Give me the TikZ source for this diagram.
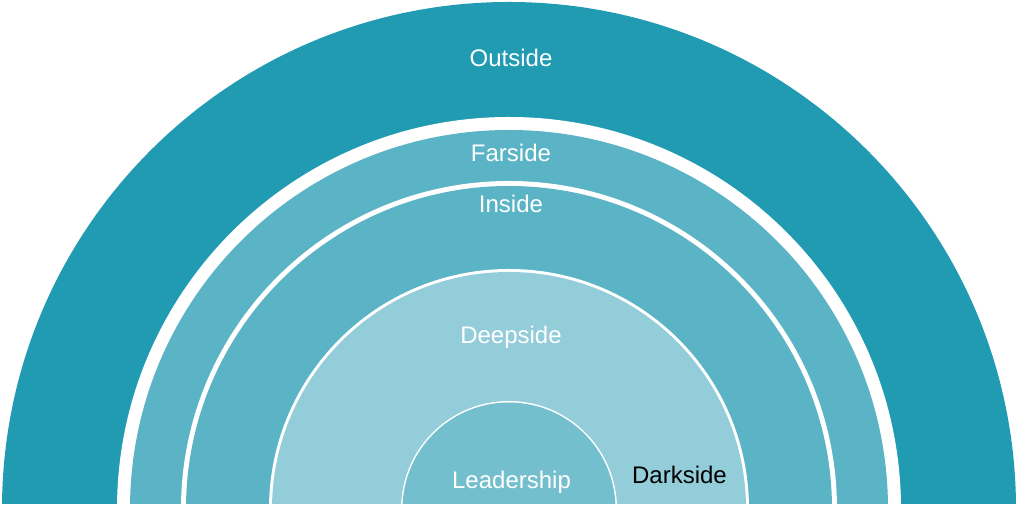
\documentclass[tikz,border=0pt]{standalone}
\usepackage{fontspec}
\setmainfont{Liberation Sans}
\usepackage{tikz}
\usetikzlibrary{calc}

\definecolor{outerteal}{HTML}{219BB2}
\definecolor{midteal}{HTML}{5BB4C5}
\definecolor{deepteal}{HTML}{93CDD9}
\definecolor{leadteal}{HTML}{74BFCE}

\tikzset{
	ringlabel/.style={anchor=base,text=white,font=\fontsize{18}{20}\selectfont},
	darklabel/.style={anchor=base,text=black,font=\fontsize{18}{20}\selectfont}
}

\begin{document}
\begin{tikzpicture}[x=0.75pt,y=0.75pt]
	\useasboundingbox (0,0) rectangle (1018,509);
	\begin{scope}
		\clip (0,5) rectangle (1018,509);
		%rings from outside to inside
		\foreach \r/\c in {507/outerteal,392/white,379/midteal,328/white,323/midteal,240/white,237/deepteal,108/white,106.5/leadteal}
		{
			\fill[\c] (509,0) circle[radius=\r];
		}
	\end{scope}
	\node[ringlabel] (outside) at (511,442) {Outside};
	\node[ringlabel] (farside) at (511,347) {Farside};
	\node[ringlabel] (inside) at (511,296) {Inside};
	\node[ringlabel] (deepside) at (511,165) {Deepside};
	\node[ringlabel] (leadership) at (511.5,20) {Leadership};
	\node[darklabel] (darkside) at (679.5,25) {Darkside};
\end{tikzpicture}
\end{document}
